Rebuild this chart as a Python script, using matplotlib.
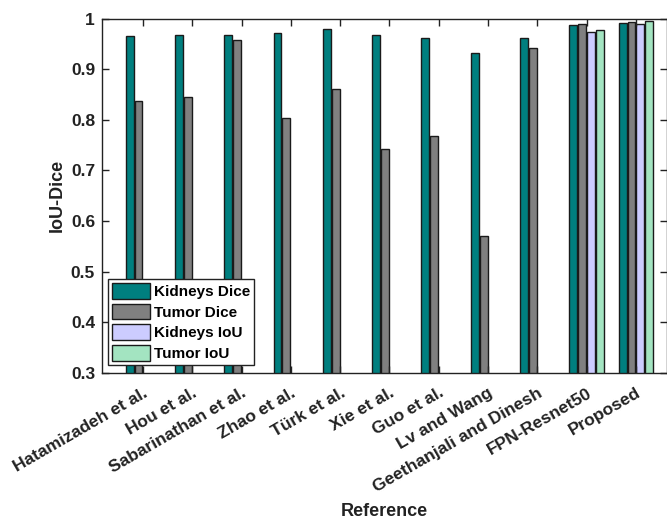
import matplotlib
matplotlib.use("Agg")
import matplotlib.pyplot as plt
import numpy as np

plt.rcParams['font.family'] = ['Liberation Sans', 'DejaVu Sans']

categories = ["Hatamizadeh et al.", "Hou et al.", "Sabarinathan et al.", "Zhao et al.",
              "Türk et al.", "Xie et al.", "Guo et al.", "Lv and Wang",
              "Geethanjali and Dinesh", "FPN-Resnet50", "Proposed"]
kidneys_dice = [0.966, 0.968, 0.967, 0.971, 0.979, 0.968, 0.961, 0.933, 0.961, 0.987, 0.992]
tumor_dice = [0.837, 0.845, 0.958, 0.804, 0.862, 0.742, 0.768, 0.571, 0.942, 0.989, 0.994]
kidneys_iou = [0, 0, 0, 0, 0, 0, 0, 0, 0, 0.973, 0.990]
tumor_iou = [0, 0, 0, 0, 0, 0, 0, 0, 0, 0.977, 0.996]
series_names = ["Kidneys Dice", "Tumor Dice", "Kidneys IoU", "Tumor IoU"]
colors = ["#007F7F", "#808080", "#CCCCFF", "#A3E4C1"]
yticks = [0.3, 0.4, 0.5, 0.6, 0.7, 0.8, 0.9, 1.0]
ytick_labels = ["0.3", "0.4", "0.5", "0.6", "0.7", "0.8", "0.9", "1"]

fig = plt.figure(figsize=(6.67, 5.2), dpi=100)
ax = fig.add_axes([0.153, 0.283, 0.847, 0.681])

x = np.arange(len(categories))
step = 0.18
width = 0.16
for i, (vals, name, c) in enumerate(zip([kidneys_dice, tumor_dice, kidneys_iou, tumor_iou],
                                         series_names, colors)):
    ax.bar(x + (i - 1.5) * step, vals, width=width, color=c, edgecolor="#1a1a1a",
           linewidth=1.0, label=name)

ax.set_ylim(0.3, 1.0)
ax.set_xlim(-0.83, 10.63)
ax.set_yticks(yticks)
ax.set_yticklabels(ytick_labels, fontsize=12.5, fontweight="bold")
ax.set_xticks(x)
ax.set_xticklabels(categories, rotation=30, ha="right", rotation_mode="anchor",
                   fontsize=12.5, fontweight="bold")
ax.tick_params(axis="both", direction="in", length=5, width=1, top=True, right=True,
               colors="#222222", labelcolor="#222222")
ax.tick_params(axis="x", pad=9)
ax.tick_params(axis="y", pad=5)
for s in ax.spines.values():
    s.set_linewidth(1.0)
    s.set_color("#222222")

ax.set_ylabel("IoU-Dice", fontsize=13, fontweight="bold", color="#222222", labelpad=4)
ax.set_xlabel("Reference", fontsize=13, fontweight="bold", color="#222222", labelpad=6)

leg = ax.legend(loc="lower left", bbox_to_anchor=(0.0105, 0.022), prop={"weight": "bold", "size": 11},
                handlelength=2.5, handleheight=1.2, handletextpad=0.25, labelspacing=0.3,
                borderpad=0.27, borderaxespad=0.0, fancybox=False, framealpha=1.0,
                edgecolor="#222222")
leg.get_frame().set_linewidth(1.0)

fig.savefig("out.png", dpi=100)
